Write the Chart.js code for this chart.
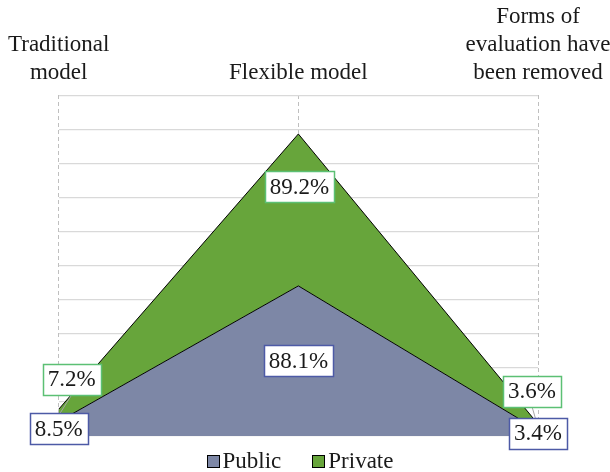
<!DOCTYPE html>
<html>
<head>
<meta charset="utf-8">
<script src="https://cdn.jsdelivr.net/npm/chart.js@4.4.1/dist/chart.umd.min.js"></script>
<style>
  html, body { margin: 0; padding: 0; background: #ffffff; }
  #wrap { width: 610px; height: 472px; }
</style>
</head>
<body>
<div id="wrap"><canvas id="c" width="610" height="472"></canvas></div>
<script>
const categories = [["Traditional", "model"], "Flexible model", ["Forms of", "evaluation have", "been removed"]];
const seriesNames = ["Public", "Private"];
const publicValues = [8.5, 88.1, 3.4];
const privateValues = [7.2, 89.2, 3.6];
const yTicks = { min: 0, max: 200, step: 20 };

const FONT = "'Liberation Serif', 'Times New Roman', serif";
const fillColors = ["#7d87a6", "#67a53b"];
const labelBorders = ["#4d5aa6", "#5cc074"];
// pixel offsets of each label from the middle of its band (styling only)
const labelOffsets = [
  [[0, 0], [0, 0], [0, 0]],
  [[13, -36], [1, -23], [-6, -36]]
];

const labelPlugin = {
  id: 'valueLabels',
  afterDatasetsDraw(chart) {
    const ctx = chart.ctx;
    const y = chart.scales.y;
    ctx.save();
    ctx.font = "23px " + FONT;
    ctx.textAlign = 'center';
    ctx.textBaseline = 'middle';
    const metas = [chart.getDatasetMeta(0), chart.getDatasetMeta(1)];
    const boxes = [];
    metas.forEach((meta, di) => {
      meta.data.forEach((pt, j) => {
        const top = pt.y;
        const base = di === 0 ? y.getPixelForValue(0) : metas[0].data[j].y;
        const mid = (top + base) / 2;
        const off = labelOffsets[di][j];
        const cx = pt.x + off[0], cy = mid + off[1];
        const txt = chart.data.datasets[di].data[j].toFixed(1) + '%';
        const w = ctx.measureText(txt).width + 10;
        const h = 31;
        boxes.push({ di, cx, cy, w, h, txt, px: pt.x, py: mid, lead: Math.abs(off[1]) > 30 });
      });
    });
    boxes.forEach(b => {
      if (!b.lead) return;
      ctx.strokeStyle = '#a6a6a6';
      ctx.lineWidth = 1;
      ctx.beginPath();
      ctx.moveTo(b.cx, b.cy + b.h / 2);
      ctx.lineTo(b.px, b.py);
      ctx.stroke();
    });
    boxes.forEach(b => {
      const x0 = Math.round(b.cx - b.w / 2) + 0.5, y0 = Math.round(b.cy - b.h / 2) + 0.5;
      ctx.fillStyle = '#ffffff';
      ctx.fillRect(x0, y0, Math.round(b.w), b.h);
      ctx.strokeStyle = labelBorders[b.di];
      ctx.lineWidth = 1.5;
      ctx.strokeRect(x0, y0, Math.round(b.w), b.h);
      ctx.fillStyle = '#1a1a1a';
      ctx.fillText(b.txt, b.cx, b.cy + 1);
    });
    ctx.restore();
  },
  afterDraw(chart) {
    const ctx = chart.ctx;
    ctx.save();
    ctx.font = "23px " + FONT;
    ctx.textBaseline = 'middle';
    ctx.textAlign = 'left';
    const box = 12, gap = 4, itemGap = 31;
    const widths = chart.data.datasets.map(d => box + gap + ctx.measureText(d.label).width);
    const total = widths.reduce((a, b) => a + b, 0) + itemGap * (widths.length - 1);
    let x = 300 - total / 2;
    const cy = 460.5;
    chart.data.datasets.forEach((d, i) => {
      ctx.fillStyle = d.backgroundColor;
      ctx.fillRect(Math.round(x) + 0.5, Math.round(cy - box / 2) + 0.5, box, box);
      ctx.strokeStyle = '#000';
      ctx.lineWidth = 1;
      ctx.strokeRect(Math.round(x) + 0.5, Math.round(cy - box / 2) + 0.5, box, box);
      ctx.fillStyle = '#1a1a1a';
      ctx.fillText(d.label, x + box + gap, cy + 1);
      x += widths[i] + itemGap;
    });
    ctx.restore();
  }
};

new Chart(document.getElementById('c'), {
  type: 'line',
  data: {
    labels: categories,
    datasets: [
      { label: seriesNames[0], data: publicValues, backgroundColor: fillColors[0], borderColor: '#000000', borderWidth: 1, fill: 'origin', pointRadius: 0, tension: 0 },
      { label: seriesNames[1], data: privateValues, backgroundColor: fillColors[1], borderColor: '#000000', borderWidth: 1, fill: '-1', pointRadius: 0, tension: 0 }
    ]
  },
  options: {
    responsive: false,
    animation: false,
    devicePixelRatio: 1,
    layout: { autoPadding: false, padding: { left: 58.7, right: 72, top: 0, bottom: 36 } },
    plugins: {
      legend: { display: false },
      tooltip: { enabled: false }
    },
    scales: {
      x: {
        position: 'top',
        offset: false,
        grid: { display: true, color: '#bfbfbf', lineWidth: 1, drawTicks: false },
        border: { display: false, dash: [4, 3] },
        ticks: { color: '#1a1a1a', font: { family: FONT, size: 23, lineHeight: 1.2 }, padding: 9, maxRotation: 0, autoSkip: false },
        afterFit(s) { s.height = 95.3; s.paddingLeft = 0; s.paddingRight = 0; }
      },
      y: {
        stacked: true,
        min: yTicks.min, max: yTicks.max,
        grid: { color: '#d9d9d9', lineWidth: 1.3, drawTicks: false },
        border: { display: false },
        ticks: { display: false, stepSize: yTicks.step },
        afterFit(s) { s.width = 0; }
      }
    }
  },
  plugins: [labelPlugin]
});
</script>
</body>
</html>
